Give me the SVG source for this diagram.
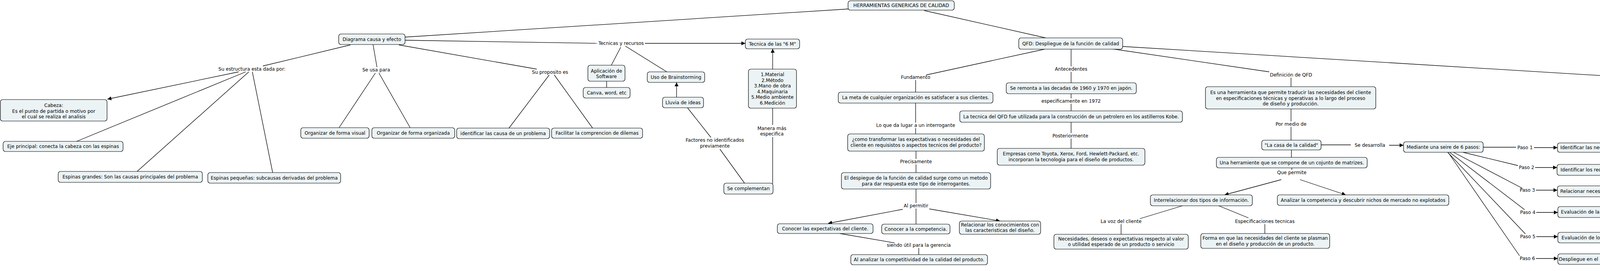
<svg xmlns="http://www.w3.org/2000/svg" width="4622" height="694" viewBox="0 0 4622 694">
<style>
text{font-family:"DejaVu Sans",Verdana,sans-serif;font-size:12px;fill:#000}
.n rect{fill:#ecf3f5;stroke:#000;stroke-width:1.2}
.n text,.l text{text-anchor:middle;dominant-baseline:central}
.c line{stroke:#000;stroke-width:1.3;fill:none}
.ar{marker-end:url(#a)}
</style>
<defs>
<marker id="a" viewBox="0 0 10 10" refX="10" refY="5" markerWidth="11" markerHeight="10" markerUnits="userSpaceOnUse" orient="auto"><path d="M0,0 L10,5 L0,10 z" fill="#000"/></marker>
</defs>
<rect width="4622" height="694" fill="#fff"/>
<g class="c">
<line x1="1037" y1="95" x2="2171" y2="23"/>
<line x1="1037" y1="103" x2="1529" y2="111"/>
<line class="ar" x1="1651" y1="111" x2="1908" y2="111"/>
<line x1="1589" y1="121" x2="1565" y2="167"/>
<line x1="1601" y1="118" x2="1707" y2="184"/>
<line x1="1553" y1="208" x2="1553" y2="224"/>
<line class="ar" x1="1732" y1="249" x2="1732" y2="211"/>
<line x1="1906" y1="469" x2="1843" y2="382"/>
<line x1="1820" y1="352" x2="1760" y2="276"/>
<line x1="1978" y1="470" x2="1978" y2="351"/>
<line x1="1978" y1="320" x2="1978" y2="277"/>
<line class="ar" x1="1978" y1="177" x2="1978" y2="125"/>
<line x1="897" y1="115" x2="673" y2="169"/>
<line class="ar" x1="611" y1="184" x2="275" y2="254"/>
<line x1="629" y1="184" x2="196" y2="362"/>
<line x1="637" y1="184" x2="351" y2="439"/>
<line x1="646" y1="184" x2="698" y2="442"/>
<line x1="955" y1="114" x2="965" y2="172"/>
<line x1="961" y1="187" x2="868" y2="327"/>
<line x1="970" y1="187" x2="1050" y2="327"/>
<line x1="1021" y1="115" x2="1374" y2="177"/>
<line x1="1406" y1="192" x2="1303" y2="328"/>
<line x1="1419" y1="192" x2="1517" y2="328"/>
<line x1="2366" y1="27" x2="2677" y2="97"/>
<line x1="2674" y1="126" x2="2371" y2="192"/>
<line x1="2344" y1="205" x2="2344" y2="236"/>
<line x1="2344" y1="264" x2="2344" y2="314"/>
<line x1="2344" y1="328" x2="2344" y2="343"/>
<line x1="2345" y1="387" x2="2345" y2="407"/>
<line x1="2345" y1="421" x2="2345" y2="442"/>
<line x1="2345" y1="484" x2="2345" y2="520"/>
<line x1="2345" y1="534" x2="2345" y2="574"/>
<line class="ar" x1="2311" y1="536" x2="2120" y2="572"/>
<line class="ar" x1="2379" y1="535" x2="2560" y2="566"/>
<line x1="2150" y1="598" x2="2290" y2="622"/>
<line x1="2352" y1="635" x2="2352" y2="652"/>
<line x1="2742" y1="126" x2="2742" y2="170"/>
<line x1="2742" y1="184" x2="2742" y2="212"/>
<line x1="2742" y1="240" x2="2742" y2="252"/>
<line x1="2742" y1="266" x2="2742" y2="284"/>
<line x1="2742" y1="313" x2="2742" y2="341"/>
<line x1="2742" y1="355" x2="2742" y2="380"/>
<line x1="2846" y1="125" x2="3249" y2="184"/>
<line x1="3305" y1="199" x2="3305" y2="222"/>
<line x1="3305" y1="279" x2="3305" y2="311"/>
<line x1="3305" y1="325" x2="3305" y2="359"/>
<line x1="3306" y1="384" x2="3306" y2="403"/>
<line x1="3307" y1="430" x2="3307" y2="435"/>
<line class="ar" x1="3280" y1="460" x2="3135" y2="499"/>
<line class="ar" x1="3328" y1="460" x2="3445" y2="499"/>
<line x1="3027" y1="527" x2="2918" y2="560"/>
<line x1="2870" y1="574" x2="2870" y2="600"/>
<line x1="3120" y1="527" x2="3196" y2="558"/>
<line x1="3238" y1="574" x2="3238" y2="598"/>
<line x1="3382" y1="371" x2="3458" y2="371"/>
<line class="ar" x1="3556" y1="372" x2="3593" y2="372"/>
<line x1="3797" y1="377" x2="3881" y2="377"/>
<line class="ar" x1="3927" y1="378" x2="3987" y2="378"/>
<line x1="3745" y1="390" x2="3886" y2="424"/>
<line class="ar" x1="3930" y1="429" x2="3986" y2="429"/>
<line x1="3721" y1="390" x2="3897" y2="482"/>
<line class="ar" x1="3932" y1="487" x2="3987" y2="487"/>
<line x1="3711" y1="390" x2="3903" y2="537"/>
<line class="ar" x1="3933" y1="544" x2="3988" y2="544"/>
<line x1="3706" y1="390" x2="3905" y2="599"/>
<line class="ar" x1="3933" y1="606" x2="3988" y2="606"/>
<line x1="3707" y1="390" x2="3890" y2="655"/>
<line class="ar" x1="3932" y1="662" x2="3988" y2="662"/>
<line x1="2874" y1="119" x2="4386" y2="211"/>
<line x1="4444" y1="221" x2="4444" y2="242"/>
</g>
<g class="l">
<text x="1590" y="111">Tecnicas y recursos</text>
<text x="1830" y="359">Factores no identificados</text>
<text x="1830" y="374">previamente</text>
<text x="1976" y="329">Manera más</text>
<text x="1976" y="343">especifica</text>
<text x="645" y="177">Su estructura esta dada por:</text>
<text x="963" y="179">Se usa para</text>
<text x="1408" y="185">Su proposito es</text>
<text x="2344" y="198">Fundamento</text>
<text x="2344" y="321">Lo que da lugar a un interrogante</text>
<text x="2345" y="414">Precisamente</text>
<text x="2345" y="527">Al permitir</text>
<text x="2352" y="628">siendo útil para la gerencia</text>
<text x="2742" y="177">Antecedentes</text>
<text x="2742" y="259">especificamente en 1972</text>
<text x="2740" y="348">Posteriormente</text>
<text x="3305" y="192">Definición de QFD</text>
<text x="3305" y="318">Por medio de</text>
<text x="3307" y="442">Que permite</text>
<text x="2870" y="567">La voz del cliente</text>
<text x="3238" y="567">Especificaciones tecnicas</text>
<text x="3507" y="372">Se desarrolla</text>
<text x="3904" y="378">Paso 1</text>
<text x="3908" y="429">Paso 2</text>
<text x="3910" y="487">Paso 3</text>
<text x="3911" y="544">Paso 4</text>
<text x="3911" y="606">Paso 5</text>
<text x="3910" y="662">Paso 6</text>
<text x="4444" y="214">Beneficios del QFD</text>
</g>
<g id="herr" class="n"><rect x="2171" y="2" width="272" height="24" rx="6"/><text x="2307" y="14">HERRAMIENTAS GENERICAS DE CALIDAD</text></g>
<g id="diag" class="n"><rect x="867" y="87" width="170" height="27" rx="6"/><text x="952" y="100.5">Diagrama causa y efecto</text></g>
<g id="cabeza" class="n"><rect x="1" y="255" width="273" height="55" rx="6"/><text x="137.5" y="270">Cabeza:</text><text x="137.5" y="284.5">Es el punto de partida o motivo por</text><text x="137.5" y="299">el cual se realiza el analisis</text></g>
<g id="eje" class="n"><rect x="8" y="362" width="307" height="26" rx="6"/><text x="161.5" y="375">Eje principal: conecta la cabeza con las espinas</text></g>
<g id="egr" class="n"><rect x="149" y="439" width="369" height="28" rx="6"/><text x="333.5" y="453">Espinas grandes: Son las causas principales del problema</text></g>
<g id="epq" class="n"><rect x="532" y="442" width="340" height="27" rx="6"/><text x="702" y="455.5">Espinas pequeñas: subcausas derivadas del problema</text></g>
<g id="ovis" class="n"><rect x="770" y="327" width="175" height="27" rx="6"/><text x="857.5" y="340.5">Organizar de forma visual</text></g>
<g id="oorg" class="n"><rect x="952" y="327" width="212" height="27" rx="6"/><text x="1058" y="340.5">Organizar de forma organizada</text></g>
<g id="iden" class="n"><rect x="1169" y="328" width="238" height="27" rx="6"/><text x="1288" y="341.5">identificar las causa de un problema</text></g>
<g id="faci" class="n"><rect x="1412" y="328" width="233" height="26" rx="6"/><text x="1528.5" y="341">Facilitar la comprencion de dilemas</text></g>
<g id="apli" class="n"><rect x="1505" y="167" width="95" height="41" rx="6"/><text x="1552.5" y="182">Aplicación de</text><text x="1552.5" y="196">Software</text></g>
<g id="canva" class="n"><rect x="1493" y="224" width="120" height="27" rx="6"/><text x="1553" y="237.5">Canva, word, etc</text></g>
<g id="uso" class="n"><rect x="1657" y="184" width="147" height="27" rx="6"/><text x="1730.5" y="197.5">Uso de Brainstorming</text></g>
<g id="lluvia" class="n"><rect x="1696" y="249" width="105" height="27" rx="6"/><text x="1748.5" y="262.5">Lluvia de ideas</text></g>
<g id="seism" class="n"><rect x="1908" y="100" width="139" height="25" rx="6"/><text x="1977.5" y="112.5">Tecnica de las "6 M"</text></g>
<g id="seismlist" class="n"><rect x="1916" y="177" width="123" height="100" rx="6"/><text x="1977.5" y="191">1.Material</text><text x="1977.5" y="206">2.Método</text><text x="1977.5" y="220">3.Mano de obra</text><text x="1977.5" y="235">4.Maquinaria</text><text x="1977.5" y="249">5.Medio ambiente</text><text x="1977.5" y="264">6.Medición</text></g>
<g id="secomp" class="n"><rect x="1853" y="469" width="126" height="28" rx="6"/><text x="1916" y="483">Se complementan</text></g>
<g id="qfd" class="n"><rect x="2608" y="97" width="266" height="29" rx="6"/><text x="2741" y="111.5">QFD: Despliegue de la función de calidad</text></g>
<g id="meta" class="n"><rect x="2146" y="236" width="396" height="28" rx="6"/><text x="2344" y="250">La meta de cualquier organización es satisfacer a sus clientes.</text></g>
<g id="como" class="n"><rect x="2170" y="343" width="350" height="44" rx="6"/><text x="2345" y="357">¿como transformar las expectativas o necesidades del</text><text x="2345" y="372">cliente en requisistos o aspectos tecnicos del producto?</text></g>
<g id="desp" class="n"><rect x="2154" y="442" width="382" height="42" rx="6"/><text x="2345" y="456">El despiegue de la función de calidad surge como un metodo</text><text x="2345" y="471">para dar respuesta este tipo de interrogantes.</text></g>
<g id="conexp" class="n"><rect x="1990" y="573" width="245" height="25" rx="6"/><text x="2112.5" y="585.5">Conocer las expectativas del cliente.</text></g>
<g id="concomp" class="n"><rect x="2257" y="574" width="175" height="25" rx="6"/><text x="2344.5" y="586.5">Conocer a la competencia.</text></g>
<g id="relcon" class="n"><rect x="2456" y="566" width="208" height="34" rx="6"/><text x="2560" y="576">Relacionar los conocimientos con</text><text x="2560" y="590">las caracteristicas del diseño.</text></g>
<g id="analcomp" class="n"><rect x="2178" y="652" width="350" height="26" rx="6"/><text x="2353" y="665">Al analizar la competitividad de la calidad del producto.</text></g>
<g id="remonta" class="n"><rect x="2576" y="212" width="333" height="28" rx="6"/><text x="2742.5" y="226">Se remonta a las decadas de 1960 y 1970 en japón.</text></g>
<g id="tecnica" class="n"><rect x="2457" y="284" width="570" height="29" rx="6"/><text x="2742" y="298.5">La tecnica del QFD fue utilizada para la construcción de un petrolero en los astillerros Kobe.</text></g>
<g id="empresas" class="n"><rect x="2553" y="380" width="378" height="43" rx="6"/><text x="2742" y="394">Empresas como Toyota, Xerox, Ford, Hewlett-Packard, etc.</text><text x="2742" y="409">incorporan la tecnologia para el diseño de productos.</text></g>
<g id="def" class="n"><rect x="3086" y="222" width="436" height="57" rx="6"/><text x="3304" y="237">Es una herramienta que permite traducir las necesidades del cliente</text><text x="3304" y="252">en especificaciones técnicas y operativas a lo largo del proceso</text><text x="3304" y="266">de diseño y producción.</text></g>
<g id="casa" class="n"><rect x="3230" y="359" width="152" height="25" rx="6"/><text x="3306" y="371.5">"La casa de la calidad"</text></g>
<g id="unaherr" class="n"><rect x="3114" y="403" width="386" height="27" rx="6"/><text x="3307" y="416.5">Una herramiente que se compone de un cojunto de matrizes.</text></g>
<g id="interr" class="n"><rect x="2945" y="499" width="261" height="28" rx="6"/><text x="3075.5" y="513">Interrelacionar dos tipos de información.</text></g>
<g id="analiz" class="n"><rect x="3270" y="499" width="439" height="27" rx="6"/><text x="3489.5" y="512.5">Analizar la competencia y descubrir nichos de mercado no explotados</text></g>
<g id="necesid" class="n"><rect x="2698" y="600" width="344" height="38" rx="6"/><text x="2870" y="612">Necesidades, deseos o expectativas respecto al valor</text><text x="2870" y="626">o utilidad esperado de un producto o servicio</text></g>
<g id="forma" class="n"><rect x="3074" y="598" width="330" height="38" rx="6"/><text x="3239" y="610">Forma en que las necesidades del cliente se plasman</text><text x="3239" y="625">en el diseño y producción de un producto.</text></g>
<g id="mediante" class="n"><rect x="3593" y="363" width="204" height="27" rx="6"/><text x="3695" y="376.5">Mediante una seire de 6 pasos:</text></g>
<g id="p1" class="n"><rect x="3987" y="366" width="245" height="24" rx="6"/><text x="4109.5" y="378">Identificar las necesidades del cliente.</text></g>
<g id="p2" class="n"><rect x="3986" y="421" width="252" height="28" rx="6"/><text x="4112" y="435">Identificar los requerimientos técnicos.</text></g>
<g id="p3" class="n"><rect x="3987" y="476" width="421" height="28" rx="6"/><text x="4197.5" y="490">Relacionar necesidades del cliente con los requerimientos técnicas.</text></g>
<g id="p4" class="n"><rect x="3988" y="529" width="200" height="28" rx="6"/><text x="4088" y="543">Evaluación de la competencia.</text></g>
<g id="p5" class="n"><rect x="3988" y="595" width="186" height="27" rx="6"/><text x="4081" y="608.5">Evaluación de los objetivos.</text></g>
<g id="p6" class="n"><rect x="3988" y="650" width="250" height="27" rx="6"/><text x="4113" y="663.5">Despliegue en el proceso de producción.</text></g>
<g id="benef" class="n"><rect x="4269" y="242" width="350" height="85" rx="6"/><text x="4277" y="257" style="text-anchor:start">1. Orientación al cliente.</text><text x="4277" y="272" style="text-anchor:start">2. Eficiencia en el tiempo.</text><text x="4277" y="286" style="text-anchor:start">3. Mejora en la calidad y fiablidad del producto.</text><text x="4277" y="300" style="text-anchor:start">4. Orientación al trabajo em grupo.</text><text x="4277" y="315" style="text-anchor:start">5. Orientación a la documentación.</text></g>
</svg>
